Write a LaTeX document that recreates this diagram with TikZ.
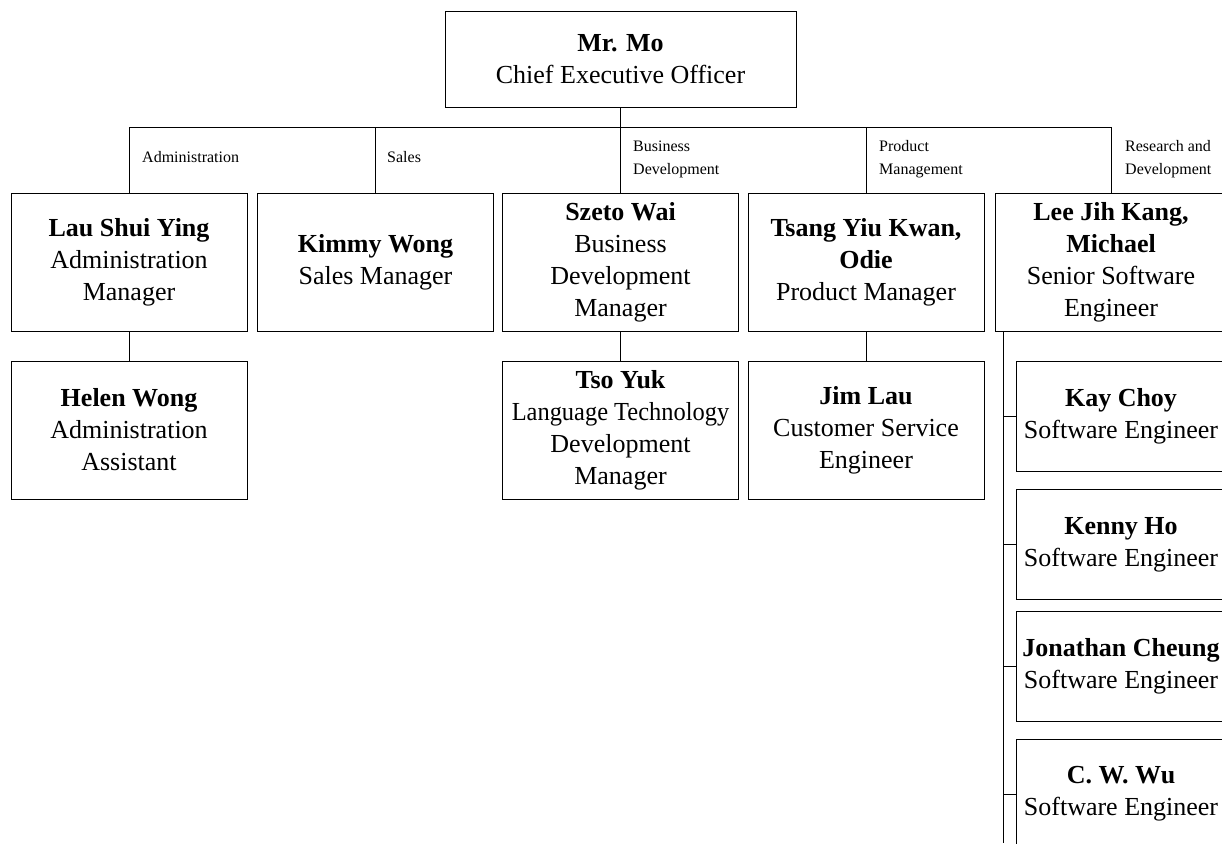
\documentclass[tikz,border=0pt]{standalone}
\usepackage{fontspec}
\setmainfont{Liberation Serif}
\usepackage{tikz}
\usetikzlibrary{positioning, calc}

\tikzset{
  person/.style={draw, line width=1pt, minimum width=236pt, minimum height=138pt, inner sep=0pt, align=center, font=\fontsize{26}{32}\selectfont},
  engineer/.style={person, minimum width=210pt, minimum height=110pt},
  dept/.style={anchor=west, inner sep=0pt, align=left, font=\fontsize{16}{23}\selectfont},
  link/.style={line width=1pt}
}

\begin{document}
\begin{tikzpicture}[x=1pt, y=-1pt]
  \useasboundingbox (0,0) rectangle (1222,843);
  \clip (0,0) rectangle (1222,843);

  % Top
  \node[person, minimum width=351pt, minimum height=95pt] (ceo) at (620.5, 59.5) {\textbf{Mr. Mo}\\Chief Executive Officer};

  % Department heads
  \node[person] (admin) at (129, 262) {\textbf{Lau Shui Ying}\\Administration\\Manager};
  \node[person] (sales) at (375.5, 262) {\textbf{Kimmy Wong}\\Sales Manager};
  \node[person] (bizdev) at (620.5, 262) {\textbf{Szeto Wai}\\Business\\Development\\Manager};
  \node[person] (prodmgr) at (866, 262) {\textbf{Tsang Yiu Kwan,}\\\textbf{Odie}\\Product Manager};
  \node[person, minimum width=232pt] (rnd) at (1111, 262) {\textbf{Lee Jih Kang,}\\\textbf{Michael}\\Senior Software\\Engineer};

  % Second row
  \node[person] (helen) at (129, 430) {\textbf{Helen Wong}\\Administration\\Assistant};
  \node[person] (tsoyuk) at (620.5, 430) {\textbf{Tso Yuk}\\\scalebox{0.94}[1]{Language Technology}\\Development\\Manager};
  \node[person] (jimlau) at (866, 430) {\textbf{Jim Lau}\\Customer Service\\Engineer};

  % Engineers under R&D
  \node[engineer] (kay) at (1121, 416.5) {\textbf{Kay Choy}\\Software Engineer};
  \node[engineer] (kenny) at (1121, 544.5) {\textbf{Kenny Ho}\\Software Engineer};
  \node[engineer] (jonathan) at (1121, 666) {\textbf{Jonathan Cheung}\\Software Engineer};
  \node[engineer] (cwwu) at (1121, 794) {\textbf{C. W. Wu}\\Software Engineer};

  % Department labels
  \node[dept] (lbladmin) at (142, 157) {Administration};
  \node[dept] (lblsales) at (387, 157) {Sales};
  \node[dept] (lblbizdev) at (633, 159.5) {Business\\Development};
  \node[dept] (lblprod) at (879, 159.5) {Product\\Management};
  \node[dept] (lblrnd) at (1125, 159.5) {Research and\\Development};

  % Connectors
  \coordinate (bus) at (0, 127);
  \coordinate (spine) at (1003, 843);
  \draw[link] (ceo.south) -- (bizdev.north);
  \draw[link] (admin.north) -- (admin.north |- bus) -- (rnd.north |- bus) -- (rnd.north);
  \draw[link] (sales.north) -- (sales.north |- bus);
  \draw[link] (prodmgr.north) -- (prodmgr.north |- bus);
  \draw[link] (admin.south) -- (helen.north);
  \draw[link] (bizdev.south) -- (tsoyuk.north);
  \draw[link] (prodmgr.south) -- (jimlau.north);
  \draw[link] (rnd.south -| spine) -- (spine);
  \foreach \eng in {kay, kenny, jonathan, cwwu}
    \draw[link] (\eng.west) -- (\eng.west -| spine);
\end{tikzpicture}
\end{document}
